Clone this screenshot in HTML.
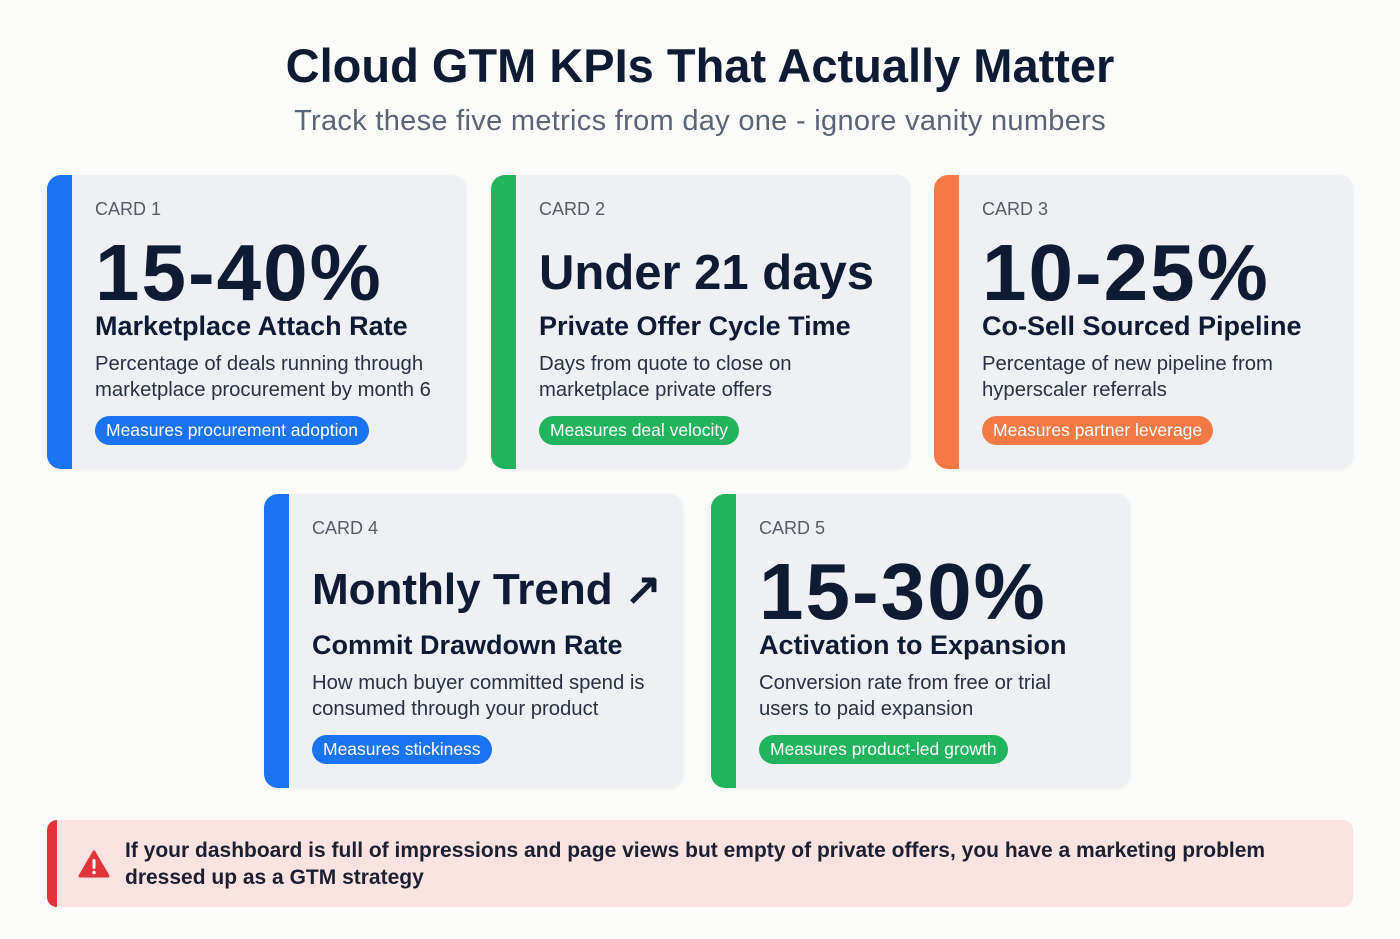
<!DOCTYPE html>
<html><head><meta charset="utf-8"><style>
body{margin:0;width:1400px;height:939px;background:#fbfbfa;font-family:"Liberation Sans",sans-serif;position:relative;overflow:hidden;color:#0f1a33}
.t{position:absolute;left:0;width:1400px;text-align:center}
.card{position:absolute;width:419px;height:294px;background:#eef0f4;border-radius:14px;overflow:hidden;box-shadow:0 1px 4px rgba(0,0,0,.06)}
.bar{position:absolute;left:0;top:0;bottom:0;width:25px}
.in{position:absolute;left:48px;top:0;right:0}
.lab{position:absolute;top:24px;font-size:18px;color:#555c68;white-space:nowrap}
.big{position:absolute;font-weight:bold;white-space:nowrap;letter-spacing:2px}
.h{position:absolute;top:136px;font-size:27px;font-weight:bold;white-space:nowrap}
.d{position:absolute;top:176px;font-size:20.3px;line-height:26px;color:#2a3142;white-space:nowrap}
.p{position:absolute;top:241px;height:29px;line-height:29px;padding:0 11px;border-radius:15px;color:#fff;font-size:17.5px;white-space:nowrap}
</style></head><body>
<div class="t" style="top:38px;font-size:47px;font-weight:bold;color:#0f1a33">Cloud GTM KPIs That Actually Matter</div>
<div class="t" style="top:105px;font-size:29px;letter-spacing:0.3px;color:#5b6474">Track these five metrics from day one - ignore vanity numbers</div>

<div class="card" style="left:47px;top:175px"><div class="bar" style="background:#1a73f0"></div><div class="in">
<div class="lab">CARD 1</div><div class="big" style="top:52px;font-size:80px">15-40%</div>
<div class="h">Marketplace Attach Rate</div><div class="d">Percentage of deals running through<br>marketplace procurement by month 6</div>
<div class="p" style="background:#1a73f0">Measures procurement adoption</div></div></div>

<div class="card" style="left:491px;top:175px"><div class="bar" style="background:#22b45c"></div><div class="in">
<div class="lab">CARD 2</div><div class="big" style="top:70px;font-size:49px;letter-spacing:0">Under 21 days</div>
<div class="h">Private Offer Cycle Time</div><div class="d">Days from quote to close on<br>marketplace private offers</div>
<div class="p" style="background:#22b45c">Measures deal velocity</div></div></div>

<div class="card" style="left:934px;top:175px"><div class="bar" style="background:#f47a45"></div><div class="in">
<div class="lab">CARD 3</div><div class="big" style="top:52px;font-size:80px">10-25%</div>
<div class="h">Co-Sell Sourced Pipeline</div><div class="d">Percentage of new pipeline from<br>hyperscaler referrals</div>
<div class="p" style="background:#f47a45">Measures partner leverage</div></div></div>

<div class="card" style="left:264px;top:494px"><div class="bar" style="background:#1a73f0"></div><div class="in">
<div class="lab">CARD 4</div><div class="big" style="top:70px;font-size:44px;letter-spacing:0">Monthly Trend ↗</div>
<div class="h">Commit Drawdown Rate</div><div class="d">How much buyer committed spend is<br>consumed through your product</div>
<div class="p" style="background:#1a73f0">Measures stickiness</div></div></div>

<div class="card" style="left:711px;top:494px"><div class="bar" style="background:#22b45c"></div><div class="in">
<div class="lab">CARD 5</div><div class="big" style="top:52px;font-size:80px">15-30%</div>
<div class="h">Activation to Expansion</div><div class="d">Conversion rate from free or trial<br>users to paid expansion</div>
<div class="p" style="background:#22b45c">Measures product-led growth</div></div></div>

<div style="position:absolute;left:47px;top:820px;width:1306px;height:87px;background:#fde2e2;border-radius:10px;overflow:hidden">
<div style="position:absolute;left:0;top:0;bottom:0;width:10px;background:#e0343a"></div>
<svg style="position:absolute;left:31px;top:30px" width="32" height="28" viewBox="0 0 32 28"><path d="M16 2 L30 26 L2 26 Z" fill="#e0343a" stroke="#e0343a" stroke-width="3" stroke-linejoin="round"/><rect x="14.5" y="9" width="3" height="10" rx="1.5" fill="#fff"/><circle cx="16" cy="22.5" r="1.8" fill="#fff"/></svg>
<div style="position:absolute;left:78px;top:17px;font-size:21px;line-height:27px;font-weight:bold;color:#1a2030">If your dashboard is full of impressions and page views but empty of private offers, you have a marketing problem<br>dressed up as a GTM strategy</div>
</div>
</body></html>
